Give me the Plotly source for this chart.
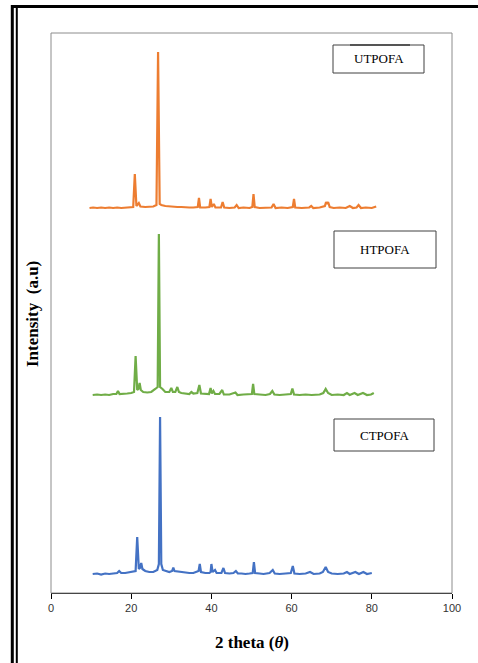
import plotly.graph_objects as go

# ---------------- data (2 theta, relative intensity) ----------------
ct_x = [10.4, 11.5, 12.5, 13.5, 14.5, 15.5, 16.5, 17.0, 17.5, 18.5, 19.5, 20.5, 21.1, 21.5, 21.9,
        22.2, 22.5, 22.8, 23.5, 24.5, 25.5, 26.5, 26.9, 27.2, 27.5, 27.9, 28.5, 29.5, 30.2, 30.5,
        30.8, 31.5, 32.5, 33.5, 34.5, 35.5, 36.5, 36.8, 37.1, 37.4, 38.5, 39.5, 39.8, 40.0, 40.3,
        40.9, 41.3, 42.5, 43.0, 43.4, 44.5, 45.5, 46.1, 46.6, 47.5, 48.5, 49.5, 50.3, 50.6, 50.9,
        52.0, 53.0, 54.5, 55.3, 55.8, 57.0, 58.5, 59.8, 60.3, 60.7, 62.0, 63.5, 64.6, 65.5, 67.0,
        67.8, 68.5, 69.1, 70.0, 71.5, 73.0, 73.8, 74.5, 75.9, 76.8, 77.9, 78.8, 80.0]
ct_y = [0, 0.5, -0.5, 0.5, 0, 0.5, 1, 3, 1, 1, 1.5, 2, 3, 37, 5,
        6, 11, 5, 3, 2, 2, 4, 10, 157, 10, 4, 3, 2, 3, 6.5,
        3, 2.5, 2, 1, 1, 1, 2, 3, 10, 2, 1, 1, 2, 10, 2,
        4, 1, 1, 6, 1, 0.5, 1, 3, 0.5, 0.5, 0, 0.5, 1, 12, 1,
        0.5, 0, 1, 4, 0.5, 0, 0.5, 1, 8, 0.5, 0, 0.5, 2, 0, 0.5,
        2, 7, 2, 0.5, 0, 0.5, 2, 0, 2, 0, 2, 0, 1]

ht_x = [10.4, 11.5, 12.5, 13.5, 14.5, 15.5, 16.3, 16.7, 17.1, 18.0, 19.0, 20.0, 20.7, 21.1, 21.5,
        21.8, 22.1, 22.4, 23.0, 24.0, 25.0, 26.0, 26.6, 26.9, 27.2, 27.8, 28.5, 29.5, 30.0, 30.4,
        31.0, 31.5, 31.9, 32.5, 33.5, 34.5, 35.0, 35.5, 36.5, 37.0, 37.4, 38.5, 39.4, 39.8, 40.1,
        40.5, 40.9, 42.0, 42.7, 43.1, 44.5, 46.0, 46.5, 48.0, 49.5, 50.1, 50.4, 50.7, 52.0, 53.5,
        54.6, 55.2, 55.7, 57.0, 58.5, 59.8, 60.2, 60.6, 62.0, 63.5, 65.0, 67.0, 67.9, 68.5, 69.1,
        70.0, 71.5, 73.0, 73.8, 74.5, 75.7, 76.5, 77.8, 78.8, 79.8, 80.5]
ht_y = [0, 0.5, 0, 0.5, 0, 1, 1, 4, 1, 1, 1.5, 2, 3, 39, 5,
        6, 12, 5, 3, 2.5, 3, 6, 8, 161, 8, 6, 3, 3, 7, 3,
        3, 8, 3, 2, 1.5, 1, 3, 1.5, 2, 10, 1.5, 1, 1, 7, 1.5,
        4, 1, 1, 5, 0.5, 0.5, 2.5, 0, 0.5, 0.5, 1, 11, 1, 0.5, 0,
        1, 4, 0.5, 0, 0.5, 1, 6.5, 0.5, 0, 0.5, 0, 0.5, 2, 6, 2,
        0, 0.5, 0, 2, 0, 2, 0, 2, 0, 0.5, 2]

ut_x = [9.6, 10.5, 11.5, 12.5, 13.5, 14.5, 15.5, 16.5, 17.5, 18.5, 19.5, 20.5, 20.9, 21.3, 21.9,
        22.3, 23.5, 24.5, 25.5, 26.3, 26.7, 27.1, 27.5, 28.5, 29.5, 30.5, 31.5, 32.5, 33.5, 34.5,
        35.5, 36.6, 36.9, 37.2, 38.5, 39.5, 39.8, 40.1, 40.6, 41.0, 42.4, 42.8, 43.2, 44.5, 45.8,
        46.3, 46.8, 48.0, 49.5, 50.2, 50.5, 50.8, 52.0, 53.5, 55.0, 55.5, 56.0, 57.5, 59.0, 60.3,
        60.6, 60.9, 62.5, 64.4, 64.9, 65.4, 67.0, 68.3, 68.6, 68.9, 69.1, 69.5, 70.5, 72.0, 73.5,
        74.5, 75.3, 76.2, 76.7, 77.3, 78.5, 80.0, 81.1]
ut_y = [0, 0.5, 0, 0.5, 0, 0.5, 0, 0.5, 0, 0.5, 0.5, 1, 34, 2, 5,
        1.5, 1, 1, 1.5, 3, 156, 4, 3, 2, 1.5, 1.5, 1, 1, 0.5, 0.5,
        0.5, 1, 10, 0.5, 0.5, 1, 9, 1, 4, 0.5, 0.5, 6, 0.5, 0, 0.5,
        3, 0, 0.5, 0, 1, 14, 1, 0, 0.5, 0.5, 4, 0, 0.5, 0, 1,
        9, 0.5, 0, 0.5, 2, 0, 0.5, 2, 6, 4, 6, 1, 0, 0.5, 0,
        2, 0, 0.5, 3, 0, 0.5, 0, 1.5]

series_names = ["CTPOFA", "HTPOFA", "UTPOFA"]
series_offsets = [19, 198, 385]
x_ticks = [0, 20, 40, 60, 80, 100]
tick_labels = ["0", "20", "40", "60", "80", "100"]

colors = ["#4472C4", "#70AD47", "#ED7D31"]

# ---------------- figure ----------------
W, H = 478, 663
L, R, T, B = 51, 26, 33, 70
pw, ph = W - L - R, H - T - B


def px(x):
    return (x - L) / pw


def py(y):
    return (H - B - y) / ph


fig = go.Figure()
for xs, ys, off, col, name in zip([ct_x, ht_x, ut_x], [ct_y, ht_y, ut_y],
                                  series_offsets, colors, series_names):
    fig.add_trace(go.Scatter(x=xs, y=[v + off for v in ys], mode="lines", name=name,
                             line=dict(color=col, width=2.2), showlegend=False,
                             hoverinfo="skip"))

shapes = []
# outer decorative frame
shapes.append(dict(type="line", xref="paper", yref="paper", x0=px(11), x1=px(478),
                   y0=py(6.5), y1=py(6.5), line=dict(color="black", width=3)))
shapes.append(dict(type="line", xref="paper", yref="paper", x0=px(12.3), x1=px(12.3),
                   y0=py(5), y1=py(663), line=dict(color="black", width=3)))
shapes.append(dict(type="line", xref="paper", yref="paper", x0=px(16.8), x1=px(16.8),
                   y0=py(8), y1=py(663), line=dict(color="black", width=2)))
# plot area border
shapes.append(dict(type="rect", xref="paper", yref="paper", x0=0, x1=1, y0=0, y1=1,
                   line=dict(color="#8c8c8c", width=1)))

# label boxes
boxes = [("UTPOFA", 333, 45, 424, 73), ("HTPOFA", 334, 231, 436, 268),
         ("CTPOFA", 334, 419, 434, 451)]
annotations = []
for text, x0, y0, x1, y1 in boxes:
    shapes.append(dict(type="rect", xref="paper", yref="paper", x0=px(x0), x1=px(x1),
                       y0=py(y1), y1=py(y0), line=dict(color="#404040", width=1),
                       fillcolor="white", layer="above"))
    annotations.append(dict(xref="paper", yref="paper", x=px((x0 + x1) / 2), y=py((y0 + y1) / 2),
                            text=text, showarrow=False, xanchor="center", yanchor="middle",
                            font=dict(family="Liberation Serif", size=13, color="black")))
shapes.append(dict(type="line", xref="paper", yref="paper", x0=px(350), x1=px(410),
                   y0=py(45), y1=py(45), line=dict(color="#555555", width=2)))

annotations.append(dict(xref="paper", yref="paper", x=0.5, y=py(642), text="<b>2 theta (<i>θ</i>)</b>",
                        showarrow=False, xanchor="center", yanchor="middle",
                        font=dict(family="Liberation Serif", size=17, color="black")))
annotations.append(dict(xref="paper", yref="paper", x=px(32), y=py(314), text="<b>Intensity  (a.u)</b>",
                        showarrow=False, xanchor="center", yanchor="middle", textangle=-90,
                        font=dict(family="Liberation Serif", size=17, color="black")))

fig.update_layout(
    width=W, height=H, margin=dict(l=L, r=R, t=T, b=B),
    paper_bgcolor="white", plot_bgcolor="white",
    shapes=shapes, annotations=annotations,
    xaxis=dict(range=[0, 100], tickvals=x_ticks, ticktext=tick_labels, ticks="outside",
               ticklen=5, tickcolor="black", showline=True, linecolor="black", linewidth=1,
               showgrid=False, zeroline=False, mirror=False,
               tickfont=dict(family="Liberation Sans", size=11, color="#333333")),
    yaxis=dict(range=[0, 560], showticklabels=False, ticks="", showgrid=False,
               zeroline=False, showline=False),
)

fig.write_html("out.html", config={"displayModeBar": False},
               post_script="document.body.style.margin='0';document.body.style.overflow='hidden';")
